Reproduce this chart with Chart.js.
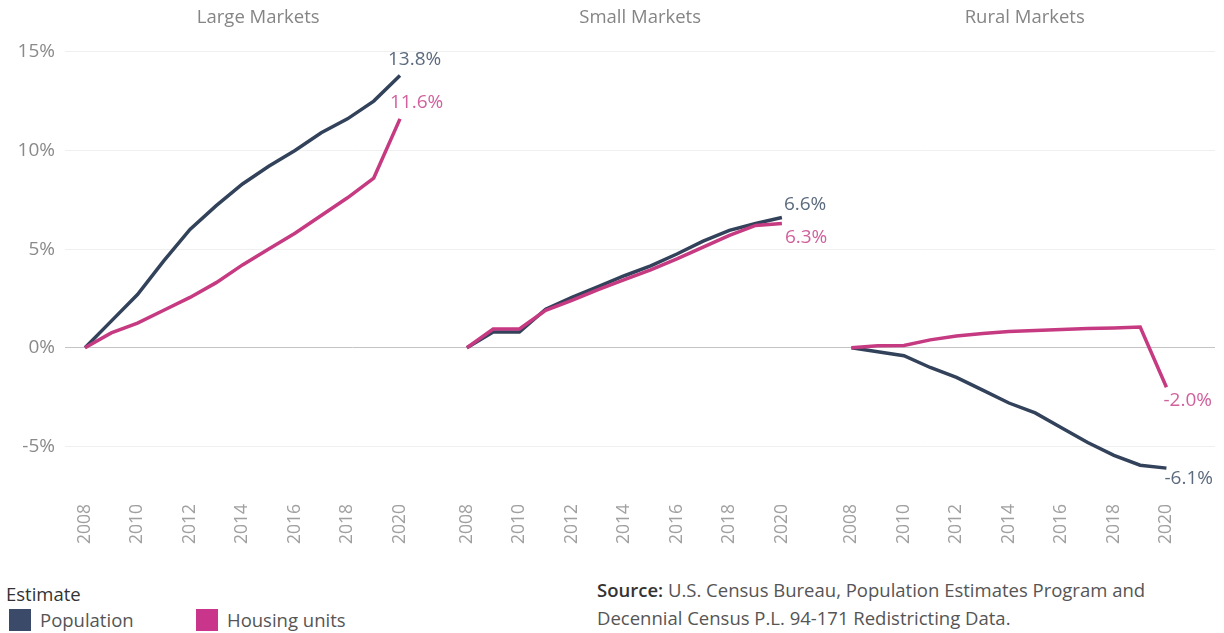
<!DOCTYPE html>
<html>
<head>
<meta charset="utf-8">
<script src="https://cdn.jsdelivr.net/npm/chart.js@4"></script>
<style>
  html, body { margin:0; padding:0; background:#fff; width:1224px; height:633px; overflow:hidden; font-family: "Open Sans", Lato, sans-serif; }
  #wrap { position:absolute; left:0; top:0; width:1224px; height:556px; }
  .legend-title { position:absolute; left:6px; top:581px; font-size:18.5px; line-height:26px; color:#333; }
  .leg { position:absolute; top:607px; font-size:18.5px; line-height:26px; color:#555; display:flex; align-items:center; }
  .sw { width:22px; height:22px; margin-right:9px; display:inline-block; }
  .source { position:absolute; left:597px; top:576px; font-size:18.5px; color:#555; line-height:28px; white-space:nowrap; }
  .source b { color:#333; font-weight:600; }
</style>
</head>
<body>
<div id="wrap"><canvas id="c" width="1224" height="556"></canvas></div>
<div class="legend-title">Estimate</div>
<div class="leg" style="left:9px"><span class="sw" style="background:#3b4a68"></span>Population</div>
<div class="leg" style="left:196px"><span class="sw" style="background:#c8358b"></span>Housing units</div>
<div class="source"><b>Source:</b> U.S. Census Bureau, Population Estimates Program and<br>Decennial Census P.L. 94-171 Redistricting Data.</div>
<script>
// ---- data ----
const years = [2008,2009,2010,2011,2012,2013,2014,2015,2016,2017,2018,2019,2020];
const markets = ["Large Markets","Small Markets","Rural Markets"];
const largePopulation = [0,1.35,2.7,4.4,6.0,7.2,8.3,9.2,10.0,10.9,11.6,12.5,13.8];
const largeHousing    = [0,0.75,1.25,1.9,2.55,3.3,4.2,5.0,5.8,6.7,7.6,8.6,11.6];
const smallPopulation = [0,0.8,0.8,1.95,2.55,3.1,3.65,4.15,4.75,5.4,5.95,6.3,6.6];
const smallHousing    = [0,0.95,0.95,1.9,2.4,2.95,3.45,3.95,4.5,5.1,5.7,6.2,6.3];
const ruralPopulation = [0,-0.2,-0.4,-1.0,-1.5,-2.15,-2.8,-3.3,-4.05,-4.8,-5.45,-5.95,-6.1];
const ruralHousing    = [0,0.1,0.12,0.4,0.6,0.72,0.83,0.88,0.93,0.97,1.0,1.05,-2.0];
const yTicks = [-5,0,5,10,15];
const xTickYears = [2008,2010,2012,2014,2016,2018,2020];

// ---- layout/style config ----
const panelOffsets = [0, 14.55, 29.2];
const popColor = "#33425b";
const houseColor = "#c63a82";
const popLabelColor = "#5b6a7e";
const houseLabelColor = "#d0619c";
// end label placement (dx, dy relative to last point)
const labelPlace = {
  "Large Markets": { pop:[-12,-16], house:[-10,-16] },
  "Small Markets": { pop:[2,-13], house:[3,14] },
  "Rural Markets": { pop:[-2,10], house:[-3,13] }
};

const popSeries = [largePopulation, smallPopulation, ruralPopulation];
const houseSeries = [largeHousing, smallHousing, ruralHousing];

function toPoints(vals, off) {
  return years.map((y, i) => ({ x: off + (y - years[0]), y: vals[i] }));
}

const datasets = [];
markets.forEach((m, k) => {
  datasets.push({ label: "Housing units", market: m, kind: "house", data: toPoints(houseSeries[k], panelOffsets[k]),
    borderColor: houseColor, borderWidth: 3.5, pointRadius: 0, fill: false, tension: 0 });
  datasets.push({ label: "Population", market: m, kind: "pop", data: toPoints(popSeries[k], panelOffsets[k]),
    borderColor: popColor, borderWidth: 3.5, pointRadius: 0, fill: false, tension: 0 });
});

const xTickValues = [];
const xTickLabel = {};
panelOffsets.forEach(off => xTickYears.forEach(y => { const v = +(off + y - years[0]).toFixed(3); xTickValues.push(v); xTickLabel[v] = String(y); }));

const fontFam = '"Open Sans", Lato, sans-serif';

const overlay = {
  id: 'overlay',
  afterDatasetsDraw(chart) {
    const ctx = chart.ctx;
    const xs = chart.scales.x;
    ctx.save();
    // panel titles
    ctx.font = '18.5px ' + fontFam;
    ctx.fillStyle = '#858585';
    ctx.textAlign = 'center';
    ctx.textBaseline = 'middle';
    markets.forEach((m, k) => {
      ctx.fillText(m, xs.getPixelForValue(panelOffsets[k] + 6.6), 18);
    });
    // end labels
    ctx.font = '19px ' + fontFam;
    ctx.textAlign = 'left';
    chart.data.datasets.forEach((ds, i) => {
      const meta = chart.getDatasetMeta(i);
      const last = meta.data[meta.data.length - 1];
      const v = ds.data[ds.data.length - 1].y;
      const pl = labelPlace[ds.market][ds.kind];
      ctx.fillStyle = ds.kind === 'pop' ? popLabelColor : houseLabelColor;
      ctx.fillText(v.toFixed(1) + '%', last.x + pl[0], last.y + pl[1]);
    });
    ctx.restore();
  }
};

new Chart(document.getElementById('c'), {
  type: 'line',
  data: { datasets },
  options: {
    responsive: false,
    animation: false,
    layout: { padding: { top: 35, right: 9, left: 0, bottom: 0 } },
    plugins: { legend: { display: false }, tooltip: { enabled: false } },
    scales: {
      x: {
        type: 'linear',
        min: -0.762,
        max: 43.05,
        afterBuildTicks: (s) => { s.ticks = xTickValues.map(v => ({ value: v })); },
        afterFit: (s) => { s.height = 78; },
        ticks: {
          autoSkip: false,
          minRotation: 90, maxRotation: 90,
          padding: 26,
          color: '#a0a0a0',
          font: { family: fontFam, size: 17.5 },
          callback: (v) => xTickLabel[+(+v).toFixed(3)] || ''
        },
        grid: { display: false, drawTicks: false },
        border: { display: false }
      },
      y: {
        min: -6.6,
        max: 15.85,
        afterBuildTicks: (s) => { s.ticks = yTicks.map(v => ({ value: v })); },
        afterFit: (s) => { s.width = 65; },
        ticks: {
          padding: 10,
          color: '#8a8a8a',
          font: { family: fontFam, size: 19 },
          callback: (v) => v + '%'
        },
        grid: {
          drawTicks: false,
          color: (c) => (c.tick && c.tick.value === 0) ? '#c4c4c4' : '#efefef',
          lineWidth: 1
        },
        border: { display: false }
      }
    }
  },
  plugins: [overlay]
});
</script>
</body>
</html>
